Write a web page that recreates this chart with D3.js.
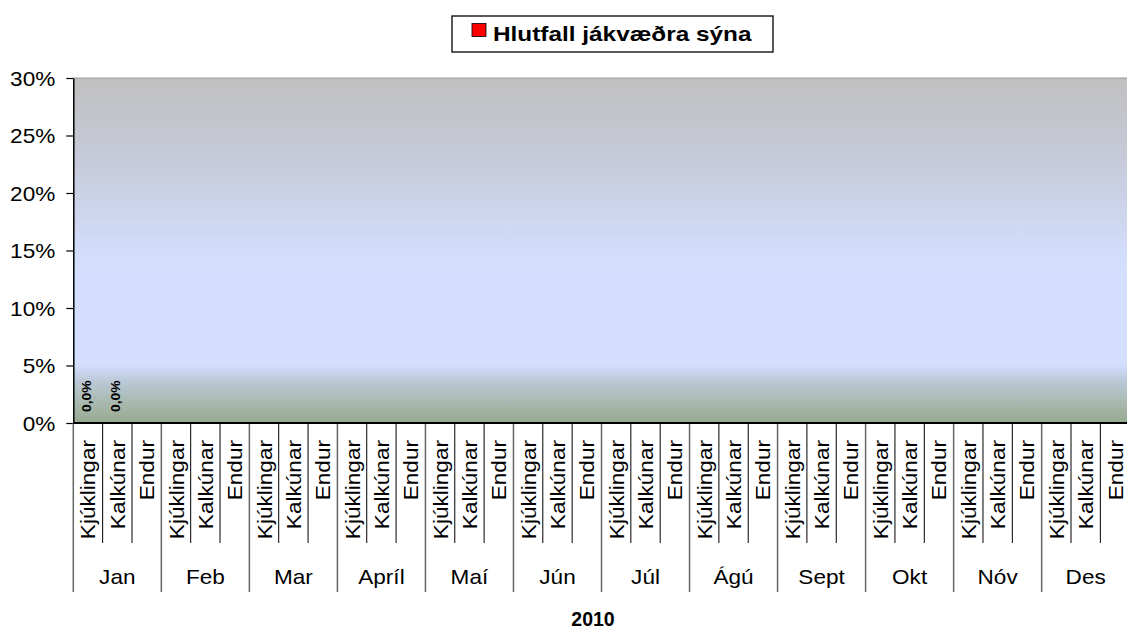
<!DOCTYPE html>
<html lang="is">
  <head>
    <meta charset="UTF-8" />
    <title>Hlutfall jákvæðra sýna 2010</title>
    <style>
      body { margin: 0; background: #fff; }
      text { font-family: Arial, "Liberation Sans", sans-serif; fill: #000; }
    </style>
  </head>
  <body>
    <svg id="svg" width="1127" height="631"></svg>

    <script src="https://cdn.jsdelivr.net/npm/d3@7"></script>
    <script>
      // data
      const months = ["Jan", "Feb", "Mar", "Apríl", "Maí", "Jún", "Júl", "Ágú", "Sept", "Okt", "Nóv", "Des"];
      const kinds = ["Kjúklingar", "Kalkúnar", "Endur"];
      const janValues = [0, 0, null];
      const otherValues = [null, null, null];
      const yTicks = [0, 0.05, 0.1, 0.15, 0.2, 0.25, 0.3];
      const seriesName = "Hlutfall jákvæðra sýna";
      const yearLabel = "2010";

      const PLOT = { left: 73.3, right: 1129.7, top: 78, bottom: 423 };
      const SX = 1.13; // text in the source is drawn a bit wider than Arial

      const data = [];
      months.forEach((m, i) => {
        const vals = i === 0 ? janValues : otherValues;
        kinds.forEach((k, j) => data.push({ month: m, kind: k, key: m + "|" + k, value: vals[j] }));
      });

      const xScale = d3.scaleBand().domain(data.map((d) => d.key)).range([PLOT.left, PLOT.right]).padding(0);
      const monthScale = d3.scaleBand().domain(months).range([PLOT.left, PLOT.right]).padding(0);
      const yScale = d3.scaleLinear().domain([0, 0.3]).range([PLOT.bottom, PLOT.top]);

      const svg = d3.select("#svg");

      // plot area gradient
      const defs = svg.append("defs");
      const grad = defs.append("linearGradient").attr("id", "bg").attr("x1", 0).attr("y1", 0).attr("x2", 0).attr("y2", 1);
      [
        [0, "#c0c0c0"],
        [0.25, "#c7cbdb"],
        [0.52, "#d3defd"],
        [0.56, "#d4dfff"],
        [0.83, "#d4dfff"],
        [0.88, "#bac8d6"],
        [0.94, "#a9b9b0"],
        [1, "#97aa8f"],
      ].forEach(([o, c]) => grad.append("stop").attr("offset", o).attr("stop-color", c));

      svg.append("rect")
        .attr("x", PLOT.left).attr("y", PLOT.top)
        .attr("width", PLOT.right - PLOT.left).attr("height", PLOT.bottom - PLOT.top)
        .attr("fill", "url(#bg)");
      svg.append("line")
        .attr("x1", PLOT.left).attr("x2", PLOT.right).attr("y1", PLOT.top).attr("y2", PLOT.top)
        .attr("stroke", "#9a9a9a").attr("stroke-width", 1);

      // bars (all zero / empty)
      svg.append("g").selectAll("rect")
        .data(data.filter((d) => d.value !== null))
        .enter().append("rect")
        .attr("x", (d) => xScale(d.key) + xScale.bandwidth() * 0.2)
        .attr("y", (d) => yScale(d.value))
        .attr("width", xScale.bandwidth() * 0.6)
        .attr("height", (d) => yScale(0) - yScale(d.value))
        .attr("fill", "#ff0000");

      // data labels
      svg.append("g").selectAll("text")
        .data(data.filter((d) => d.value !== null))
        .enter().append("text")
        .attr("transform", (d) => `translate(${xScale(d.key) + xScale.bandwidth() / 2 + 3},${yScale(d.value) - 11}) rotate(-90) scale(${SX},1)`)
        .attr("font-size", 12.3)
        .attr("font-weight", "bold")
        .text((d) => d3.format(".1%")(d.value).replace(".", ","));

      // y axis
      const leftAxis = d3.axisLeft(yScale)
        .tickValues(yTicks)
        .tickFormat((d) => Math.round(d * 100) + "%")
        .tickSize(7)
        .tickSizeOuter(0);
      const yg = svg.append("g").attr("transform", `translate(${PLOT.left},0)`).call(leftAxis);
      yg.select(".domain").attr("stroke", "#000").attr("stroke-width", 1.5);
      yg.selectAll(".tick line").attr("stroke", "#000").attr("stroke-width", 1.2);
      yg.selectAll(".tick text")
        .attr("x", null).attr("dy", "0.35em")
        .attr("transform", `translate(-18,0) scale(${SX},1)`)
        .attr("font-size", 20)
        .attr("font-family", "Arial, 'Liberation Sans', sans-serif")
        .attr("fill", "#000");

      // x axis: category divider lines
      const xg = svg.append("g");
      xg.selectAll("line.cat")
        .data(data)
        .enter().append("line")
        .attr("class", "cat")
        .attr("x1", (d) => xScale(d.key)).attr("x2", (d) => xScale(d.key))
        .attr("y1", PLOT.bottom)
        .attr("y2", (d) => (d.kind === kinds[0] ? 592 : 543))
        .attr("stroke", (d) => (d.kind === kinds[0] ? "#666" : "#000"))
        .attr("stroke-width", (d) => (d.kind === kinds[0] ? 1.5 : 1));
      xg.append("line")
        .attr("x1", PLOT.right).attr("x2", PLOT.right)
        .attr("y1", PLOT.bottom).attr("y2", 592)
        .attr("stroke", "#666").attr("stroke-width", 1.5);
      xg.append("line")
        .attr("x1", PLOT.left).attr("x2", PLOT.right)
        .attr("y1", PLOT.bottom).attr("y2", PLOT.bottom)
        .attr("stroke", "#000").attr("stroke-width", 2);

      // category labels
      xg.selectAll("text.cat")
        .data(data)
        .enter().append("text")
        .attr("class", "cat")
        .attr("transform", (d) => `translate(${xScale(d.key) + xScale.bandwidth() / 2 + 7.5},440) rotate(-90) scale(${SX},1)`)
        .attr("text-anchor", "end")
        .attr("font-size", 20)
        .text((d) => d.kind);

      // month labels
      xg.selectAll("text.month")
        .data(months)
        .enter().append("text")
        .attr("class", "month")
        .attr("transform", (d) => `translate(${monthScale(d) + monthScale.bandwidth() / 2},584) scale(${SX},1)`)
        .attr("text-anchor", "middle")
        .attr("font-size", 20)
        .text((d) => d);

      // axis title
      svg.append("text")
        .attr("transform", `translate(593,625.5)`)
        .attr("text-anchor", "middle")
        .attr("font-size", 19.5)
        .attr("font-weight", "bold")
        .text(yearLabel);

      // legend
      const lg = svg.append("g");
      lg.append("rect")
        .attr("x", 452).attr("y", 16).attr("width", 321).attr("height", 36)
        .attr("fill", "#fff").attr("stroke", "#000").attr("stroke-width", 1.3);
      lg.append("rect")
        .attr("x", 472).attr("y", 23.5).attr("width", 14).attr("height", 13)
        .attr("fill", "#ff0000").attr("stroke", "#000").attr("stroke-width", 0.8);
      lg.append("text")
        .attr("transform", `translate(493,41) scale(1.16,1)`)
        .attr("font-size", 21)
        .attr("font-weight", "bold")
        .text(seriesName);
    </script>
  </body>
</html>
